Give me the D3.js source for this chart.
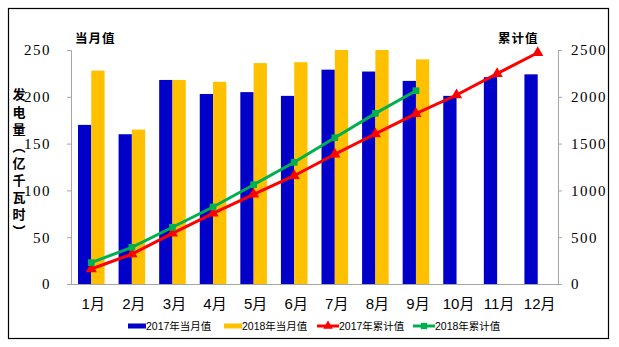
<!DOCTYPE html>
<html><head><meta charset="utf-8">
<script src="https://cdn.jsdelivr.net/npm/d3@7"></script>
<style>html,body{margin:0;padding:0;background:#fff;}</style>
</head><body>
<svg id="c" width="619" height="347"></svg>
<script>
const months = ["1月","2月","3月","4月","5月","6月","7月","8月","9月","10月","11月","12月"];
const monthly2017 = [170,160,218,203,205,201,229,227,217,201,221,224];
const monthly2018 = [228,165,218,216,236,237,250,250,240];
const cumul2017 = [160,320,541,755,958,1157,1386,1603,1820,2019,2247,2471];
const cumul2018 = [228,392,606,823,1061,1300,1563,1823,2065];
const leftTicks = [0,50,100,150,200,250];
const rightTicks = [0,500,1000,1500,2000,2500];
const yLabel = "发电量（亿千瓦时）";
const legendItems = ["2017年当月值","2018年当月值","2017年累计值","2018年累计值"];

const C = {blue:"#0000C8", yellow:"#FFC000", red:"#FF0000", green:"#00B050", axis:"#A6A6A6"};
const svg = d3.select("#c");
svg.append("rect").attr("x",8.5).attr("y",8.5).attr("width",600).attr("height",330)
  .attr("fill","#fff").attr("stroke","#000").attr("stroke-width",1.2);

const L=71, R=558, T=50, B=284;
const x = d3.scaleBand().domain(months).range([L,R]).paddingInner(0.345).paddingOuter(0.1725);
const xOuter = d3.scaleBand().domain(months).range([L,R]);
const yL = d3.scaleLinear().domain([0,250]).range([B,T]);
const yR = d3.scaleLinear().domain([0,2500]).range([B,T]);
const bw = x.bandwidth()/2;

// bars
svg.append("g").selectAll("rect").data(monthly2017).join("rect")
  .attr("x",(d,i)=>x(months[i])).attr("y",d=>yL(d)).attr("width",bw).attr("height",d=>B-yL(d)).attr("fill",C.blue);
svg.append("g").selectAll("rect").data(monthly2018).join("rect")
  .attr("x",(d,i)=>x(months[i])+bw).attr("y",d=>yL(d)).attr("width",bw).attr("height",d=>B-yL(d)).attr("fill",C.yellow);

// axes
const serif = "'Liberation Serif','Times New Roman',serif";
const gL = svg.append("g").attr("transform",`translate(${L},0)`)
  .call(d3.axisLeft(yL).tickValues(leftTicks).tickSize(4).tickPadding(16).tickFormat(d3.format("d")));
const gR = svg.append("g").attr("transform",`translate(${R},0)`)
  .call(d3.axisRight(yR).tickValues(rightTicks).tickSize(4).tickPadding(9).tickFormat(d3.format("d")));
[gL,gR].forEach(g=>{
  g.select(".domain").attr("stroke",C.axis);
  g.selectAll(".tick line").attr("stroke",C.axis);
  g.selectAll("text").attr("font-family",serif).attr("font-size",15).attr("fill","#000").attr("letter-spacing",1.5);
});
const gX = svg.append("g").attr("transform",`translate(0,${B})`)
  .call(d3.axisBottom(xOuter).tickSize(0).tickPadding(14));
gX.select(".domain").attr("stroke",C.axis);
gX.selectAll("text").attr("font-family","'Liberation Sans',Arial,'Noto Sans CJK SC',sans-serif")
  .attr("font-size",15).attr("fill","#000").attr("dx",2);

// lines
const cx = i => x(months[i]) + x.bandwidth()/2;
function series(data, color, marker){
  svg.append("path").datum(data)
    .attr("d", d3.line().x((d,i)=>cx(i)).y(d=>yR(d)))
    .attr("fill","none").attr("stroke",color).attr("stroke-width",3);
  svg.append("g").selectAll("path").data(data).join("path")
    .attr("transform",(d,i)=>`translate(${cx(i)},${yR(d)})`)
    .attr("d", d3.symbol().type(marker).size(marker===d3.symbolTriangle?55:45))
    .attr("fill",color);
}
series(cumul2017, C.red, d3.symbolTriangle);
series(cumul2018, C.green, d3.symbolSquare);

// titles
const cjk = "'Noto Sans CJK SC',sans-serif";
svg.append("text").attr("x",75).attr("y",43).text("当月值")
  .attr("font-family",cjk).attr("font-weight","bold").attr("font-size",12.5).attr("letter-spacing",1);
svg.append("text").attr("x",498).attr("y",43).text("累计值")
  .attr("font-family",cjk).attr("font-weight","bold").attr("font-size",12.5).attr("letter-spacing",1);
svg.append("text").attr("x",19).attr("y",88)
  .style("writing-mode","vertical-rl").style("glyph-orientation-vertical","0")
  .attr("font-family",cjk).attr("font-weight","bold").attr("font-size",13).attr("letter-spacing",4.1)
  .text(yLabel);

// legend
const lg = svg.append("g").attr("font-family","'Liberation Sans',Arial,'Noto Sans CJK SC',sans-serif").attr("font-size",10.5);
const lx = [128,224,317,413];
const ly = 326;
legendItems.forEach((t,i)=>{
  const g = lg.append("g").attr("transform",`translate(${lx[i]},${ly})`);
  if(i<2){
    g.append("rect").attr("x",0).attr("y",-2.5).attr("width",18).attr("height",5).attr("fill",i==0?C.blue:C.yellow);
  } else {
    const col = i==2?C.red:C.green;
    g.append("line").attr("x1",0).attr("x2",22).attr("y1",0).attr("y2",0).attr("stroke",col).attr("stroke-width",3);
    g.append("path").attr("transform","translate(11,0)")
      .attr("d",d3.symbol().type(i==2?d3.symbolTriangle:d3.symbolSquare).size(40)).attr("fill",col);
  }
  g.append("text").attr("x",i<2?18:22).attr("y",0).attr("dy","0.36em").attr("fill","#000").text(t);
});
</script>
</body></html>
